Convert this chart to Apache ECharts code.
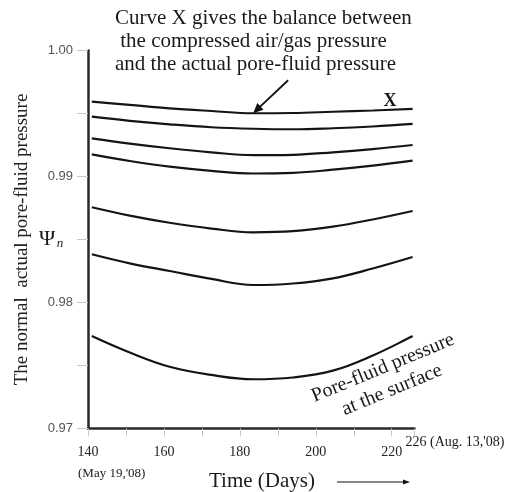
<!DOCTYPE html>
<html>
<head>
<meta charset="utf-8">
<script src="https://cdn.jsdelivr.net/npm/echarts@6/dist/echarts.min.js"></script>
<style>
html,body{margin:0;padding:0;background:#fff;}
#c{width:513px;height:492px;}
</style>
</head>
<body>
<div id="c"></div>
<script>
// ---- data ----
var days = [141, 151, 161.5, 172.5, 183.5, 194, 204.5, 215, 225.5];
var curveX = [0.99594, 0.99568, 0.99541, 0.99520, 0.99502, 0.99504, 0.99514, 0.99524, 0.99536];
var curve2 = [0.99475, 0.99442, 0.99414, 0.99391, 0.99379, 0.99375, 0.99383, 0.99397, 0.99417];
var curve3 = [0.99303, 0.99261, 0.99224, 0.99192, 0.99169, 0.99172, 0.99192, 0.99218, 0.99250];
var curve4 = [0.99176, 0.99123, 0.99078, 0.99045, 0.99024, 0.99029, 0.99054, 0.99086, 0.99126];
var curve5 = [0.98756, 0.98690, 0.98633, 0.98587, 0.98557, 0.98566, 0.98602, 0.98659, 0.98726];
var curve6 = [0.98383, 0.98311, 0.98250, 0.98187, 0.98139, 0.98151, 0.98192, 0.98270, 0.98361];
var curveSurface = [0.97734, 0.97603, 0.97490, 0.97425, 0.97391, 0.97405, 0.97459, 0.97579, 0.97734];
var xTickLabels = [140, 160, 180, 200, 220];
var yTickLabels = ['0.97', '0.98', '0.99', '1.00'];
var xMin = 140, xMax = 226, yMin = 0.97, yMax = 1.00;

var SERIF = '"Liberation Serif","Times New Roman",serif';
var SANS = '"Liberation Sans",Arial,sans-serif';

function pairs(vals){ return days.map(function(d,i){ return [d, vals[i]]; }); }
var allCurves = [curveX, curve2, curve3, curve4, curve5, curve6, curveSurface];

var chart = echarts.init(document.getElementById('c'), null, {renderer:'canvas'});
var option = {
  backgroundColor: '#fff',
  animation: false,
  grid: {left: 88, right: 98.5, top: 50.5, bottom: 63.5},
  xAxis: {
    type: 'value', min: xMin, max: xMax, interval: 10,
    splitLine: {show: false},
    axisLine: {lineStyle: {color: '#2a2a2a', width: 2.5}},
    axisTick: {length: 8, lineStyle: {color: '#c8c8c8', width: 1}},
    axisLabel: {
      margin: 17, color: '#222', fontFamily: SERIF, fontSize: 14,
      formatter: function(v){ return xTickLabels.indexOf(Math.round(v)) >= 0 && Math.abs(v-Math.round(v))<1e-9 ? String(v) : ''; }
    }
  },
  yAxis: {
    type: 'value', min: yMin, max: yMax, interval: 0.005,
    splitLine: {show: false},
    axisLine: {lineStyle: {color: '#2a2a2a', width: 2.5}},
    axisTick: {length: 11, lineStyle: {color: '#c8c8c8', width: 1}},
    axisLabel: {
      margin: 15, color: '#555', fontFamily: SANS, fontSize: 13,
      formatter: function(v){ var s = v.toFixed(3); var t = v.toFixed(2); return (s === t + '0' && yTickLabels.indexOf(t) >= 0) ? t : ''; }
    },
    name: 'The normal  actual pore-fluid pressure',
    nameLocation: 'middle', nameGap: 56, nameRotate: 90,
    nameTextStyle: {fontFamily: SERIF, fontSize: 19, color: '#222'}
  },
  series: allCurves.map(function(c){
    return {type: 'line', data: pairs(c), smooth: 0.4, showSymbol: false,
      lineStyle: {color: '#141414', width: 2.2}};
  })
};
chart.setOption(option);

function px(x, y){ return chart.convertToPixel({xAxisIndex: 0, yAxisIndex: 0}, [x, y]); }
var tip = px(days[4], curveX[4]);
var tail = [tip[0] + 35, tip[1] - 33];
var ang = Math.atan2(tip[1]-tail[1], tip[0]-tail[0]);
function head(p, a, L, W){
  return [p,
    [p[0] - L*Math.cos(a) + W*Math.sin(a), p[1] - L*Math.sin(a) - W*Math.cos(a)],
    [p[0] - L*Math.cos(a) - W*Math.sin(a), p[1] - L*Math.sin(a) + W*Math.cos(a)]];
}
var p140 = px(140, yMin);
var p226 = px(226, yMin);
var txt = function(x, y, s, o){
  o = o || {};
  return {type:'text', x:x, y:y, rotation:o.rot||0,
    style:{text:s, font:(o.weight||'normal')+' '+(o.size||21)+'px '+(o.fam||SERIF), fill:o.fill||'#1a1a1a',
      textAlign:o.align||'left', textVerticalAlign:'middle'}};
};
var arrowEndX = 410, arrowY = 482;
chart.setOption({
  graphic: [
    txt(115, 18, 'Curve X gives the balance between'),
    txt(115, 41, ' the compressed air/gas pressure'),
    txt(115, 64, 'and the actual pore-fluid pressure'),
    {type:'line', shape:{x1:tail[0], y1:tail[1], x2:tip[0]-6*Math.cos(ang), y2:tip[1]-6*Math.sin(ang)}, style:{stroke:'#111', lineWidth:1.8}},
    {type:'polygon', shape:{points: head(tip, ang, 10, 4.5)}, style:{fill:'#111'}},
    txt(390, 101, 'X', {weight:'bold', size:18, align:'center'}),
    txt(383, 368, 'Pore-fluid pressure', {size:20, align:'center', rot: 22.5*Math.PI/180}),
    txt(392, 390, 'at the surface', {size:20, align:'center', rot: 22.5*Math.PI/180}),
    txt(47, 239, '\u03A8', {size:22, align:'center'}),
    txt(60, 244, 'n', {size:13, align:'center', weight:'italic'}),
    txt(p140[0]-10, 474, "(May 19,'08)", {size:13}),
    txt(p226[0]-9, 442, "226 (Aug. 13,'08)", {size:14}),
    txt(262, 481, 'Time (Days)', {size:21, align:'center'}),
    {type:'line', shape:{x1:337, y1:arrowY, x2:arrowEndX-5, y2:arrowY}, style:{stroke:'#111', lineWidth:1.2}},
    {type:'polygon', shape:{points: head([arrowEndX, arrowY], 0, 7, 2.5)}, style:{fill:'#111'}}
  ]
});
</script>
</body>
</html>
